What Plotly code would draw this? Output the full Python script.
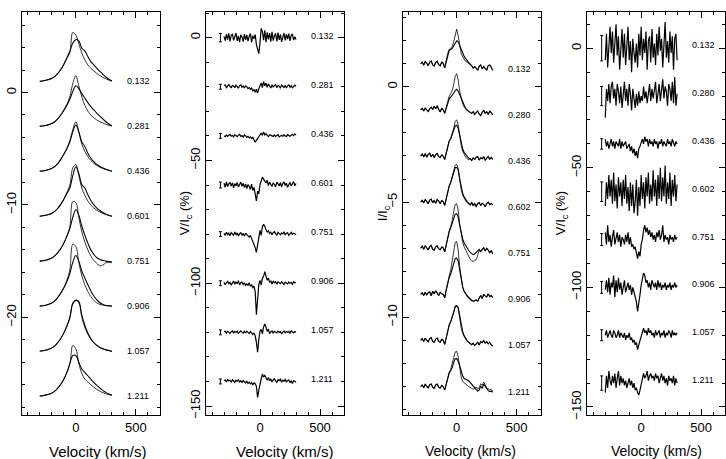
import numpy as np
import plotly.graph_objects as go

FONT = "Liberation Sans, Arial, Helvetica, sans-serif"

# ---------------- phases / offsets ----------------
phases_left = ["0.132", "0.281", "0.436", "0.601", "0.751", "0.906", "1.057", "1.211"]
phases_right = ["0.132", "0.280", "0.436", "0.602", "0.751", "0.906", "1.057", "1.211"]
p1_levels = [1, -3, -7, -11, -15, -19, -23, -27]
p2_levels = [0, -20, -40, -60, -80, -100, -120, -140]
p3_levels = [1, -1, -3, -5, -7, -9, -11, -13]
p4_levels = [0, -20, -40, -60, -80, -100, -120, -140]

vel_min, vel_max = -300, 300

# ---------------- panel 1: intensity profiles (excess above continuum) ----------------
p1_sharp = [
    [0, 0.03, 0.08, 0.15, 0.25, 0.42, 0.68, 1.05, 1.5, 2.0, 2.55, 4.35, 4.1, 3.35, 2.5, 1.9, 1.45, 1.15, 0.9, 0.7, 0.5, 0.35, 0.22, 0.1, 0.0],
    [0, 0.02, 0.07, 0.14, 0.24, 0.4, 0.65, 1.0, 1.45, 1.95, 2.6, 3.8, 4.5, 3.6, 2.6, 1.85, 1.35, 1.0, 0.75, 0.55, 0.4, 0.28, 0.17, 0.08, 0.0],
    [0, 0.02, 0.07, 0.14, 0.25, 0.42, 0.68, 1.05, 1.5, 2.0, 2.7, 3.7, 4.4, 3.5, 2.4, 1.75, 1.3, 0.95, 0.7, 0.5, 0.35, 0.24, 0.15, 0.07, 0.0],
    [0, 0.03, 0.08, 0.15, 0.26, 0.43, 0.7, 1.05, 1.5, 2.1, 2.75, 4.3, 4.6, 3.6, 2.5, 1.85, 1.35, 1.0, 0.72, 0.52, 0.36, 0.24, 0.14, 0.06, 0.0],
    [0, 0.03, 0.08, 0.16, 0.28, 0.46, 0.75, 1.12, 1.6, 2.2, 3.0, 5.3, 5.2, 3.9, 2.6, 1.7, 1.0, 0.45, 0.05, -0.2, -0.42, -0.35, -0.15, -0.12, -0.15],
    [0, 0.03, 0.08, 0.16, 0.28, 0.47, 0.77, 1.15, 1.65, 2.3, 3.2, 5.5, 5.3, 3.9, 2.7, 1.9, 1.3, 0.85, 0.5, 0.28, 0.15, 0.08, 0.05, 0.02, 0.0],
    [0, 0.03, 0.08, 0.16, 0.28, 0.46, 0.75, 1.12, 1.6, 2.2, 2.9, 4.3, 4.55, 4.3, 3.0, 2.1, 1.5, 1.05, 0.72, 0.48, 0.3, 0.18, 0.1, 0.04, 0.0],
    [0, 0.03, 0.08, 0.15, 0.26, 0.43, 0.7, 1.05, 1.5, 2.05, 2.8, 4.5, 4.2, 2.9, 2.0, 1.5, 1.25, 1.0, 0.78, 0.58, 0.42, 0.3, 0.2, 0.12, 0.05],
]
p1_broad = [
    [0, 0.03, 0.08, 0.15, 0.26, 0.43, 0.7, 1.05, 1.5, 2.1, 2.65, 3.4, 3.7, 3.6, 2.95, 2.7, 2.2, 1.75, 1.45, 1.15, 0.88, 0.62, 0.38, 0.18, 0.05],
    [0, 0.02, 0.07, 0.14, 0.24, 0.4, 0.65, 1.0, 1.4, 1.85, 2.4, 3.1, 3.6, 3.35, 2.9, 2.5, 2.1, 1.75, 1.45, 1.15, 0.9, 0.65, 0.4, 0.2, 0.05],
    [0, 0.02, 0.07, 0.14, 0.25, 0.42, 0.68, 1.05, 1.5, 2.0, 2.6, 3.5, 4.1, 3.5, 2.6, 2.2, 1.6, 1.15, 0.85, 0.6, 0.42, 0.28, 0.17, 0.08, 0.0],
    [0, 0.03, 0.08, 0.15, 0.26, 0.43, 0.7, 1.05, 1.5, 2.0, 2.5, 3.6, 4.4, 3.8, 2.8, 2.5, 1.9, 1.4, 1.0, 0.72, 0.5, 0.32, 0.18, 0.08, 0.0],
    [0, 0.03, 0.08, 0.16, 0.28, 0.46, 0.75, 1.12, 1.6, 2.2, 2.9, 3.9, 4.6, 4.1, 3.1, 2.3, 1.6, 1.0, 0.6, 0.3, 0.15, 0.05, 0.0, -0.03, -0.05],
    [0, 0.03, 0.08, 0.16, 0.28, 0.47, 0.77, 1.15, 1.6, 2.15, 2.9, 3.9, 4.5, 4.0, 3.1, 2.5, 1.9, 1.35, 0.9, 0.55, 0.3, 0.15, 0.06, 0.02, 0.0],
    [0, 0.03, 0.08, 0.16, 0.28, 0.46, 0.75, 1.12, 1.6, 2.2, 3.0, 4.2, 4.5, 4.4, 3.2, 2.3, 1.6, 1.1, 0.75, 0.5, 0.32, 0.2, 0.11, 0.05, -0.05],
    [0, 0.03, 0.08, 0.15, 0.26, 0.43, 0.7, 1.05, 1.5, 2.1, 2.9, 3.6, 3.6, 3.0, 2.4, 2.1, 1.8, 1.5, 1.2, 0.95, 0.7, 0.5, 0.32, 0.18, 0.1],
]

# ---------------- panel 2: Stokes V (%) ----------------
p2_v = [
    [0.5, -1.2, 1.4, -0.8, 1.8, -1.5, 0.9, 1.6, -1.1, 0.4, 1.9, -1.3, 0.7, -1.8, 1.2, 0.3, -1.6, 1.5, -0.9, 1.1,
     -1.4, 0.6, 1.7, -1.9, 0.8, -0.5, 1.3, -2.8, -4.5, -6.5, -2.0, 3.8, 2.5, -1.0, 3.0, -1.8, 2.2, -0.7, 1.9, -1.6,
     2.4, -1.2, 0.8, 1.8, -1.5, 2.1, -0.9, 1.3, -1.7, 0.6, 1.9, -1.1, 1.4, -0.6, 1.7, -1.3, 0.9, 1.5, -1.0, 0.4, -0.8],
    [0.5, 0.8, -0.3, 0.4, 0.9, 0.2, -0.5, 0.6, 0.3, -0.4, 0.7, 0.1, -0.6, 0.5, 0.8, -0.2, 0.3, -0.5, 0.4, 0.0,
     -0.7, -0.3, -1.0, -0.5, -1.6, -1.2, -2.2, -1.0, -2.6, -0.8, 0.5, 1.6, -0.3, 2.1, 0.4, 1.5, -0.2, 1.2, 0.3, -0.5,
     0.8, -0.2, 0.6, 0.9, -0.4, 0.5, 0.2, -0.6, 0.7, 0.1, -0.3, 0.6, -0.5, 0.4, 0.8, -0.2, 0.5, -0.4, 0.3, 0.7, 0.2],
    [0.0, -0.3, 0.4, -0.2, 0.3, 0.6, -0.1, 0.2, -0.4, 0.5, 0.1, -0.3, 0.3, 0.6, -0.2, 0.1, -0.5, 0.4, 0.0, -0.6,
     -0.2, -0.8, -0.4, -1.1, -0.6, -1.5, -2.6, -1.8, -0.9, -0.3, 0.6, 1.2, 0.2, 1.6, 0.4, 0.9, 0.2, -0.3, 0.5, 0.3,
     0.0, -0.2, 0.4, -0.3, 0.2, 0.5, -0.4, 0.1, 0.3, -0.2, 0.4, 0.0, -0.3, 0.5, 0.2, -0.1, 0.3, 0.6, 0.1, 0.8, 0.3],
    [0.8, -0.9, 1.3, -0.6, 0.5, 1.1, -0.4, 0.9, -1.2, 0.6, -0.3, 1.0, -0.8, 0.4, 1.2, -0.5, 0.7, -1.0, 0.3, -1.4,
     0.2, -0.6, -1.8, 0.4, -2.2, -1.0, -3.8, -6.5, -2.5, -3.6, 0.2, 1.4, 3.2, 2.4, 1.5, 0.8, 1.9, -0.2, 1.1, 0.4,
     -0.6, 0.9, 0.3, -0.8, 1.2, 0.5, -0.4, 1.0, -0.7, 0.6, 1.3, -0.2, 0.8, -0.9, 0.5, 1.1, -0.4, 0.7, 1.4, -0.3, 0.6],
    [0.3, -0.5, 0.8, -0.2, 0.4, -0.7, 0.6, 0.1, -0.4, 0.9, -0.3, 0.5, -0.8, 0.2, 0.6, -0.5, 0.3, -0.9, 0.4, -0.2,
     -0.6, -1.2, -0.5, -1.8, -2.5, -3.8, -5.5, -7.4, -4.0, -1.2, 1.5, -0.5, 3.0, 4.0, 3.2, 1.8, 0.9, 1.4, 0.3, 0.8,
     -0.2, 0.6, 1.0, 0.2, -0.4, 0.7, 0.3, -0.3, 0.5, 0.1, 0.8, -0.2, 0.4, 0.6, -0.5, 0.3, 0.7, -0.1, 0.4, 0.2, -0.3],
    [0.4, -0.6, 0.2, 0.8, -0.3, 0.5, -0.8, 0.3, 0.9, -0.4, 0.6, -0.2, 1.0, -0.7, 0.3, 0.5, -0.5, 0.2, -0.9, -0.3,
     -0.8, 0.2, -1.3, -0.6, -1.8, -1.2, -3.5, -12.8, -6.0, -0.5, 1.2, -0.8, 2.0, 2.8, 4.7, 3.0, 1.2, 2.1, 0.4, 1.0,
     -0.3, 0.8, 0.2, 0.6, -0.4, 0.5, 0.3, -0.2, 0.6, 0.1, -0.5, 0.4, 0.2, -0.3, 0.5, 0.0, 0.3, -0.4, 0.6, 0.2, 0.4],
    [0.2, 0.5, -0.3, 0.4, 0.1, -0.5, 0.3, 0.6, -0.2, 0.4, 0.0, 0.5, -0.4, 0.2, 0.6, 0.1, -0.3, 0.4, -0.2, 0.5,
     0.0, -0.5, 0.3, -0.4, -0.9, -0.2, -1.5, -4.0, -8.1, -3.0, 0.5, 1.2, -0.6, 2.2, 3.4, 2.1, 0.4, 1.3, -0.5, 0.2,
     0.6, -0.3, 0.4, 0.1, -0.2, 0.5, 0.0, 0.3, -0.6, 0.2, 0.5, -0.2, 0.3, 0.0, 0.4, -0.3, 0.6, 0.1, -0.2, 0.3, 0.0],
    [0.4, 0.6, -0.2, 0.8, 0.3, 0.5, -0.3, 0.7, 0.2, -0.4, 0.5, 0.1, 0.6, -0.2, 0.3, -0.5, 0.4, 0.0, -0.6, 0.2,
     -0.8, -0.3, -1.0, -0.5, -1.4, -0.6, -0.9, -2.0, -6.5, -3.5, -0.5, 1.0, 3.0, 1.8, 2.5, 1.2, 0.5, 1.6, 0.3, 0.9,
     -0.2, 0.6, 1.1, 0.2, -0.4, 0.7, 0.3, 0.9, -0.3, 0.5, 0.1, 0.8, -0.2, 0.4, 0.6, -0.5, 0.2, -0.8, 0.3, 0.1, -0.4],
]
p2_err = [1.7, 1.0, 1.0, 1.2, 1.0, 1.0, 1.0, 1.0]

# ---------------- panel 3: intensity profiles (excess above continuum) ----------------
p3_sharp = [
    [0.00, 0.08, -0.06, 0.10, 0.02, -0.08, 0.07, 0.12, -0.05, -0.10, 0.06, 0.11, -0.04, -0.09, 0.07, 0.02, -0.18,
     0.15, 0.45, 0.62, 0.68, 0.75, 0.95, 1.30, 1.50, 1.20, 0.75, 0.45, 0.30, 0.18, 0.10, 0.06, 0.02,
     -0.05, -0.08, -0.20, -0.12, -0.18, -0.28, -0.10, -0.05, -0.22, -0.12, -0.20, -0.28, -0.08, -0.05, -0.15, -0.28],
    [0.00, 0.07, -0.05, 0.08, 0.00, -0.07, 0.05, 0.12, 0.02, 0.16, 0.05, 0.18, 0.02, -0.09, 0.07, 0.00, -0.15,
     0.10, 0.42, 0.60, 0.70, 0.85, 1.10, 1.45, 1.57, 1.30, 0.80, 0.45, 0.25, 0.12, 0.05, 0.00, -0.05,
     -0.10, -0.15, -0.08, -0.20, -0.12, -0.05, -0.18, -0.25, -0.10, -0.02, -0.15, -0.08, -0.20, -0.05, -0.12, -0.22],
    [0.00, 0.09, -0.04, 0.10, -0.05, 0.07, 0.12, -0.04, 0.08, -0.07, 0.06, 0.11, -0.03, -0.07, 0.05, 0.00, -0.15,
     0.15, 0.48, 0.65, 0.75, 0.95, 1.20, 1.50, 1.57, 1.35, 0.85, 0.45, 0.20, 0.05, -0.05, -0.12, -0.16,
     -0.12, -0.20, -0.08, -0.15, -0.05, -0.02, -0.18, -0.08, -0.12, -0.03, -0.18, -0.10, -0.02, -0.14, -0.06, -0.15],
    [0.00, 0.08, -0.04, 0.11, 0.03, -0.07, 0.09, 0.13, -0.03, 0.07, -0.05, 0.11, 0.04, -0.06, 0.07, 0.02, -0.14,
     0.18, 0.50, 0.70, 0.85, 1.05, 1.35, 1.60, 1.64, 1.45, 0.95, 0.55, 0.30, 0.15, 0.05, -0.02, -0.08,
     -0.15, -0.05, -0.18, -0.10, -0.22, -0.08, -0.02, -0.15, -0.05, -0.10, -0.20, -0.06, 0.00, -0.12, -0.05, -0.12],
    [0.00, 0.09, -0.05, 0.10, 0.02, -0.08, 0.07, 0.12, -0.05, -0.09, 0.06, 0.11, -0.03, -0.07, 0.05, 0.02, -0.16,
     0.18, 0.52, 0.75, 0.95, 1.20, 1.60, 1.90, 1.93, 1.65, 1.05, 0.55, 0.25, 0.05, -0.10, -0.25, -0.38,
     -0.48, -0.55, -0.57, -0.52, -0.50, -0.30, -0.10, -0.15, -0.05, 0.02, -0.12, 0.00, -0.08, -0.20, -0.10, -0.25],
    [0.00, 0.07, -0.05, 0.09, -0.03, 0.07, 0.11, -0.06, 0.13, 0.02, 0.15, 0.05, -0.05, 0.09, 0.02, 0.00, -0.15,
     0.20, 0.55, 0.80, 1.05, 1.40, 1.90, 2.25, 2.29, 1.90, 1.20, 0.60, 0.30, 0.12, 0.02, -0.05, -0.10,
     -0.18, -0.25, -0.28, -0.30, -0.22, -0.30, -0.15, -0.05, -0.18, 0.00, -0.08, -0.12, 0.02, -0.10, -0.05, -0.15],
    [0.00, 0.08, -0.05, 0.10, 0.01, -0.07, 0.08, 0.12, -0.04, -0.08, 0.06, 0.10, -0.04, -0.08, 0.05, 0.01, -0.17,
     0.15, 0.48, 0.68, 0.82, 1.00, 1.25, 1.50, 1.52, 1.40, 0.95, 0.55, 0.30, 0.15, 0.05, -0.03, -0.10,
     -0.15, -0.20, -0.12, -0.22, -0.15, -0.08, -0.20, -0.05, -0.10, 0.00, -0.12, -0.05, -0.15, -0.08, -0.18, -0.25],
    [0.00, 0.07, -0.05, 0.10, 0.02, -0.07, 0.08, 0.11, -0.03, -0.08, 0.07, 0.11, -0.03, -0.07, 0.05, 0.00, -0.15,
     0.15, 0.45, 0.62, 0.75, 0.95, 1.25, 1.50, 1.53, 1.30, 0.80, 0.40, 0.22, 0.15, 0.12, 0.05, 0.00,
     -0.05, -0.10, -0.12, -0.08, -0.02, -0.10, -0.05, 0.12, 0.05, 0.20, 0.08, -0.05, -0.10, -0.15, -0.12, -0.22],
]
p3_broad = [
    [0.00, 0.08, -0.06, 0.10, 0.02, -0.08, 0.07, 0.12, -0.05, -0.10, 0.06, 0.11, -0.04, -0.09, 0.07, 0.02, -0.18,
     0.12, 0.40, 0.58, 0.62, 0.66, 0.78, 0.92, 1.00, 0.95, 0.78, 0.60, 0.45, 0.32, 0.22, 0.12, 0.05,
     -0.02, -0.08, -0.18, -0.12, -0.20, -0.28, -0.10, -0.05, -0.22, -0.12, -0.20, -0.28, -0.08, -0.05, -0.15, -0.28],
    [0.00, 0.07, -0.05, 0.08, 0.00, -0.07, 0.05, 0.12, 0.02, 0.16, 0.05, 0.18, 0.02, -0.09, 0.07, 0.00, -0.15,
     0.08, 0.35, 0.48, 0.55, 0.62, 0.72, 0.84, 0.89, 0.82, 0.65, 0.48, 0.30, 0.15, 0.05, -0.02, -0.06,
     -0.10, -0.15, -0.08, -0.20, -0.12, -0.05, -0.18, -0.25, -0.10, -0.02, -0.15, -0.08, -0.20, -0.05, -0.12, -0.22],
    [0.00, 0.09, -0.04, 0.10, -0.05, 0.07, 0.12, -0.04, 0.08, -0.07, 0.06, 0.11, -0.03, -0.07, 0.05, 0.00, -0.15,
     0.15, 0.48, 0.65, 0.75, 0.92, 1.12, 1.30, 1.33, 1.20, 0.90, 0.55, 0.30, 0.15, 0.05, -0.05, -0.10,
     -0.12, -0.20, -0.08, -0.15, -0.05, -0.02, -0.18, -0.08, -0.12, -0.03, -0.18, -0.10, -0.02, -0.14, -0.06, -0.15],
    [0.00, 0.08, -0.04, 0.11, 0.03, -0.07, 0.09, 0.13, -0.03, 0.07, -0.05, 0.11, 0.04, -0.06, 0.07, 0.02, -0.14,
     0.18, 0.50, 0.70, 0.85, 1.05, 1.30, 1.50, 1.50, 1.40, 1.00, 0.62, 0.38, 0.22, 0.10, 0.02, -0.05,
     -0.10, -0.02, -0.12, -0.06, -0.18, -0.06, -0.02, -0.15, -0.05, -0.10, -0.20, -0.06, 0.00, -0.12, -0.05, -0.12],
    [0.00, 0.09, -0.05, 0.10, 0.02, -0.08, 0.07, 0.12, -0.05, -0.09, 0.06, 0.11, -0.03, -0.07, 0.05, 0.02, -0.16,
     0.18, 0.50, 0.72, 0.88, 1.05, 1.30, 1.48, 1.50, 1.35, 1.00, 0.65, 0.40, 0.22, 0.10, 0.00, -0.10,
     -0.18, -0.24, -0.28, -0.25, -0.20, -0.12, -0.05, -0.15, -0.05, 0.02, -0.12, 0.00, -0.08, -0.20, -0.10, -0.25],
    [0.00, 0.07, -0.05, 0.09, -0.03, 0.07, 0.11, -0.06, 0.13, 0.02, 0.15, 0.05, -0.05, 0.09, 0.02, 0.00, -0.15,
     0.18, 0.50, 0.72, 0.88, 1.10, 1.38, 1.55, 1.57, 1.45, 1.05, 0.62, 0.32, 0.12, 0.00, -0.08, -0.15,
     -0.22, -0.28, -0.30, -0.28, -0.25, -0.30, -0.15, -0.05, -0.18, 0.00, -0.08, -0.12, 0.02, -0.10, -0.05, -0.15],
    [0.00, 0.08, -0.05, 0.10, 0.01, -0.07, 0.08, 0.12, -0.04, -0.08, 0.06, 0.10, -0.04, -0.08, 0.05, 0.01, -0.17,
     0.15, 0.48, 0.66, 0.80, 0.98, 1.22, 1.45, 1.50, 1.42, 1.05, 0.65, 0.38, 0.20, 0.08, -0.02, -0.08,
     -0.12, -0.18, -0.12, -0.22, -0.15, -0.08, -0.20, -0.05, -0.10, 0.00, -0.12, -0.05, -0.15, -0.08, -0.18, -0.25],
    [0.00, 0.07, -0.05, 0.10, 0.02, -0.07, 0.08, 0.11, -0.03, -0.08, 0.07, 0.11, -0.03, -0.07, 0.05, 0.00, -0.15,
     0.12, 0.42, 0.58, 0.68, 0.82, 1.05, 1.20, 1.21, 1.10, 0.90, 0.65, 0.45, 0.35, 0.30, 0.28, 0.25,
     0.18, 0.10, 0.02, -0.05, -0.12, -0.20, -0.15, 0.02, -0.08, 0.10, 0.00, -0.12, -0.18, -0.22, -0.20, -0.25],
]

# ---------------- panel 4: Stokes V (%) ----------------
p4_v = [
    [-5, 6, -8, 3, 9, -2, 7, -6, 4, 10, -3, 5, -9, 2, 8, -4, 6, -7, 1, 9, -5, 3, -10, 4, -2, -6, 2, -8, 6, -3,
     9, -5, 4, -2, 7, -9, 3, 5, -6, 8, -4, 2, -7, 6, -3, 9, -1, 4, -8, 5, 11, -4, 3, -6, 7, -2, 5, -9, 4, 6, -5],
    [-9, 3, -2, 5, -3, 4, 6, -1, 3, -4, 5, 2, -3, 4, -5, 2, 6, -2, 3, -4, 5, 1, -6, 3, -2, -5, 1, -4, 2, -3,
     0, -2, 4, -1, 2, -3, 1, 5, -2, 3, -1, 4, 6, -3, 2, 5, -2, 3, 7, -1, 4, 2, -4, 5, 3, -2, 6, -3, 8, -4, 1],
    [2, -1, 1, -2, 0, 2, -1, 1, -2, 1, 0, -1, 2, -2, 1, -1, 0, 1, -2, -1, 0, -3, -1, -4, -2, -5, -3, -6, -2, -1,
     1, 2, 0, 3, 1, 2, -1, 2, 0, 1, -1, 2, 0, 1, -2, 1, 0, 2, -1, 1, 0, -1, 2, 0, 1, -1, 2, 0, -1, 1, 0],
    [-6, 4, -3, 7, -2, 5, -5, 8, -4, 3, -7, 6, -2, 4, -6, 5, -3, 7, -5, 2, -8, 4, -6, 3, -9, -4, 5, -10, 2, -6,
     7, -3, 4, -7, 6, -2, 8, -5, 3, -4, 9, -2, 5, -6, 7, -3, 10, -4, 6, -2, 11, -5, 4, -3, 8, -6, 5, -2, 7, -4, 3],
    [3, -2, 6, -1, 2, -3, 1, 4, -2, 0, 3, -1, 2, -3, 1, 0, -2, 2, -1, 3, -2, 1, -3, -2, -4, -3, -6, -8, -5, -7,
     -2, 0, 4, 6, 3, 5, 2, 4, 1, 3, 0, 2, -1, 3, 1, 4, 0, 2, 6, -1, 2, 0, 1, -2, 2, 0, 1, -1, 2, 0, 1],
    [-1, 3, -2, 4, -3, 2, 0, 5, -4, 3, -2, 4, -1, 2, -3, 1, 3, -2, 0, 2, -1, 1, -3, 0, -2, -4, -6, -10, -7, -3,
     1, 3, 6, 5, 2, 3, 0, 2, -1, 3, 1, 0, 2, -1, 3, 0, 2, -1, 1, 0, 2, -1, 1, 0, 2, -1, 1, 0, 2, 0, 1],
    [0, 2, -1, 1, 2, 0, -1, 2, 1, -1, 0, 2, -1, 1, 0, -1, 1, -2, 0, -1, 1, -2, -1, -3, -2, -4, -3, -6, -4, -2,
     0, 1, 3, 1, 2, 0, 3, 1, 2, 0, 1, -1, 2, 0, 1, 2, -1, 1, 0, 2, -1, 1, 0, 2, 1, -1, 2, 0, 1, 0, 1],
    [-4, 3, -2, 5, 1, -1, 3, 0, 4, -2, 2, 5, -1, 3, 0, 2, -1, 1, -2, 0, 2, -1, 1, -2, 0, -3, -2, -4, -5, -3,
     -1, 1, 4, 2, 3, 5, 1, 3, 4, 2, 3, 1, 4, 2, 3, 0, 2, 4, 1, 3, 0, 2, -1, 3, 1, 2, 0, 3, -1, 2, 0],
]
p4_err = [5.3, 4.0, 2.2, 4.1, 2.5, 2.5, 2.3, 3.0]

err_bar_vel = -330
label_vel = 410

# ---------------- figure ----------------
W, H = 726, 459
fig = go.Figure()


def vel(arr):
    return np.linspace(vel_min, vel_max, len(arr))


def add_line(arr, level, xa, ya, width, shape="linear"):
    fig.add_trace(go.Scatter(x=vel(arr), y=level + np.array(arr, dtype=float), mode="lines",
                             line=dict(color="black", width=width, shape=shape),
                             xaxis=xa, yaxis=ya, showlegend=False, hoverinfo="skip"))


for k in range(8):
    add_line(p1_broad[k], p1_levels[k], "x", "y", 1.05, "spline")
    add_line(p1_sharp[k], p1_levels[k], "x", "y", 0.8, "spline")
    add_line(p2_v[k], p2_levels[k], "x2", "y2", 1.2)
    add_line(p3_broad[k], p3_levels[k], "x3", "y3", 1.1)
    add_line(p3_sharp[k], p3_levels[k], "x3", "y3", 0.8)
    add_line(p4_v[k], p4_levels[k], "x4", "y4", 1.2)

# error bars
fig.add_trace(go.Scatter(x=[err_bar_vel] * 8, y=p2_levels, mode="markers", marker=dict(size=0.1, color="black"),
                         error_y=dict(type="data", array=p2_err, color="black", thickness=1, width=1.5),
                         xaxis="x2", yaxis="y2", showlegend=False, hoverinfo="skip"))
fig.add_trace(go.Scatter(x=[err_bar_vel] * 8, y=p4_levels, mode="markers", marker=dict(size=0.1, color="black"),
                         error_y=dict(type="data", array=p4_err, color="black", thickness=1, width=1.5),
                         xaxis="x4", yaxis="y4", showlegend=False, hoverinfo="skip"))

# domains (pixel-based)
x_dom_px = [(21.7, 160.0), (206.0, 344.0), (402.7, 540.7), (587.3, 725.0)]
y_dom = [(H - 419) / H, (H - 12) / H]
y_ranges = [(-28.72, 7.17), (-153.8, 10.5), (-14.25, 3.25), (-153.5, 15.2)]
y_major = [[0, -10, -20], [0, -50, -100, -150], [0, -5, -10], [0, -50, -100, -150]]
y_minor = [2, 10, 1, 10]

common = dict(showline=True, linecolor="black", linewidth=1, mirror="allticks", ticks="inside",
              ticklen=6, tickwidth=1, tickcolor="black", showgrid=False, zeroline=False,
              tickfont=dict(size=13, color="black", family=FONT))

layout = {}
for i in range(4):
    sfx = "" if i == 0 else str(i + 1)
    xd = [x_dom_px[i][0] / W, x_dom_px[i][1] / W]
    layout["xaxis" + sfx] = dict(common, domain=xd, range=[-450, 700], tickvals=[0, 500],
                                 anchor="y" + sfx,
                                 minor=dict(ticks="inside", ticklen=3, tickcolor="black", tickwidth=1,
                                            tick0=0, dtick=100, showgrid=False))
    layout["yaxis" + sfx] = dict(common, domain=y_dom, range=list(y_ranges[i]), tickvals=y_major[i],
                                 anchor="x" + sfx, tickangle=-90,
                                 minor=dict(ticks="inside", ticklen=3, tickcolor="black", tickwidth=1,
                                            tick0=0, dtick=y_minor[i], showgrid=False))

annotations = []
label_shift = [0, 2, -5, 3]
levels_all = [p1_levels, p2_levels, p3_levels, p4_levels]
names_all = [phases_left, phases_left, phases_right, phases_right]
for i in range(4):
    sfx = "" if i == 0 else str(i + 1)
    for k in range(8):
        annotations.append(dict(x=label_vel, y=levels_all[i][k], xref="x" + sfx, yref="y" + sfx,
                                text=names_all[i][k], showarrow=False, xanchor="left", yanchor="middle",
                                yshift=label_shift[i], font=dict(size=9, color="black", family=FONT)))

# x titles
title_x_px = [98, 285, 471, 656]
title_size = [15, 15, 14, 14]
for i in range(4):
    annotations.append(dict(x=title_x_px[i] / W, y=(H - 455) / H, xref="paper", yref="paper",
                            text="Velocity (km/s)", showarrow=False, xanchor="center", yanchor="middle",
                            font=dict(size=title_size[i], color="black", family=FONT)))

# y titles
ytitles = [(185, "V/I<sub>c</sub> (%)"), (383, "I/I<sub>c</sub>"), (561, "V/I<sub>c</sub> (%)")]
for xp, txt in ytitles:
    annotations.append(dict(x=xp / W, y=(H - 215) / H, xref="paper", yref="paper", text=txt,
                            showarrow=False, textangle=-90, xanchor="center", yanchor="middle",
                            font=dict(size=13, color="black", family=FONT)))

fig.update_layout(width=W, height=H, margin=dict(l=0, r=0, t=0, b=0), paper_bgcolor="white",
                  plot_bgcolor="white", showlegend=False, annotations=annotations,
                  font=dict(family=FONT, color="black"), **layout)

fig.write_html("out.html")
